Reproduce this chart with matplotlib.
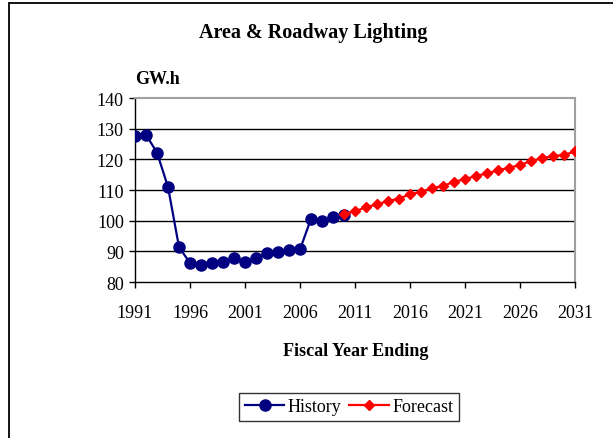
import numpy as np
import matplotlib
matplotlib.use('Agg')
import matplotlib.pyplot as plt
from matplotlib.patches import Rectangle

plt.rcParams['font.family'] = ['Liberation Serif', 'DejaVu Serif']

# data
hist_years = list(range(1991, 2011))
hist_vals = [127.5, 128.0, 122.2, 111.0, 91.4, 86.2, 85.7, 86.2, 86.6, 87.9,
             86.5, 87.9, 89.3, 89.8, 90.4, 90.6, 100.6, 99.8, 101.3, 102.0]
fc_years = list(range(2010, 2032))
fc_vals = [102.3, 103.0, 104.4, 105.3, 106.4, 107.2, 108.6, 109.4, 110.6, 111.3,
           112.7, 113.5, 114.6, 115.4, 116.4, 117.3, 118.1, 119.5, 120.3, 121.1,
           121.4, 122.6]
x_ticks = list(range(1991, 2032, 5))
y_ticks = list(range(80, 141, 10))

W, H = 613, 439
fig = plt.figure(figsize=(W / 100, H / 100), dpi=100)
fig.patch.set_facecolor('white')

# outer chart border (cut off on right and bottom)
fig.patches.append(Rectangle((9 / W, -0.1), 1.2, 1 - 4 / H + 0.1, transform=fig.transFigure,
                             fill=False, edgecolor='black', lw=1.3))

left, right, top, bottom = 135, 575, 99, 283
ax = fig.add_axes([left / W, 1 - bottom / H, (right - left) / W, (bottom - top) / H])

ax.plot(hist_years, hist_vals, color='#000080', lw=1.6, marker='o', ms=8,
        label='History', zorder=3)
ax.plot(fc_years, fc_vals, color='#ff0000', lw=1.6, marker='D', ms=5.5,
        label='Forecast', zorder=4)

ax.set_xlim(1991, 2031)
ax.set_ylim(80, 140)
ax.set_xticks(x_ticks)
ax.set_yticks(y_ticks)
ax.tick_params(axis='both', labelsize=13, length=4, width=1, direction='out',
               colors='black', pad=4)
ax.tick_params(axis='x', pad=12)
for y in y_ticks[1:-1]:
    ax.axhline(y, color='black', lw=1, zorder=1)

ax.spines['left'].set_color('black')
ax.spines['bottom'].set_color('black')
ax.spines['top'].set_color('#a0a0a0')
ax.spines['right'].set_color('#a0a0a0')
for s in ax.spines.values():
    s.set_linewidth(1.5)
ax.spines['left'].set_linewidth(1)
ax.spines['bottom'].set_linewidth(1)

fig.text(313 / W, 1 - 33 / H, 'Area & Roadway Lighting', ha='center', va='center',
         fontsize=14.5, fontweight='bold')
fig.text(158 / W, 1 - 80 / H, 'GW.h', ha='center', va='center',
         fontsize=13, fontweight='bold')
fig.text(356 / W, 1 - 352 / H, 'Fiscal Year Ending', ha='center', va='center',
         fontsize=13, fontweight='bold')

leg = fig.legend(loc='center', bbox_to_anchor=(349 / W, 1 - 408 / H), ncol=2,
                 fontsize=13, frameon=True, fancybox=False, handlelength=2.2,
                 handletextpad=0.2, columnspacing=0.4, borderpad=0.3)
leg.get_frame().set_edgecolor('black')
leg.get_frame().set_linewidth(1)

fig.savefig('out.png', dpi=100, facecolor='white')
